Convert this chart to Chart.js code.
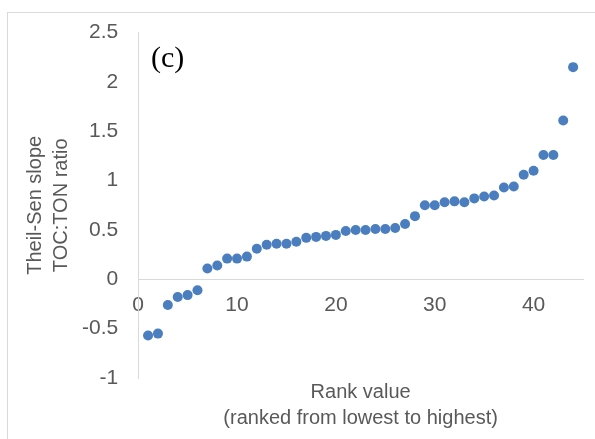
<!DOCTYPE html>
<html>
<head>
<meta charset="utf-8">
<script src="https://cdn.jsdelivr.net/npm/chart.js@4"></script>
<style>
  html, body { margin: 0; padding: 0; background: #fff; }
  #wrap { position: relative; width: 595px; height: 439px; overflow: hidden; }
  #frame {
    position: absolute; left: 7px; top: 12px; width: 620px; height: 460px;
    border-left: 1px solid #d9d9d9; border-top: 1px solid #d9d9d9;
  }
  #panel {
    position: absolute; left: 151px; top: 42px;
    font: 30px/30px "Liberation Serif", "Times New Roman", serif; color: #000;
  }
</style>
</head>
<body>
<div id="wrap">
  <div id="frame"></div>
  <canvas id="myChart"></canvas>
  <div id="panel">(c)</div>
</div>
<script>
(() => {
  'use strict'

  // Rank (x) and Theil-Sen slope of TOC:TON ratio (y)
  const ranks = [
    1, 2, 3, 4, 5, 6, 7, 8, 9, 10,
    11, 12, 13, 14, 15, 16, 17, 18, 19, 20,
    21, 22, 23, 24, 25, 26, 27, 28, 29, 30,
    31, 32, 33, 34, 35, 36, 37, 38, 39, 40,
    41, 42, 43, 44
  ]
  const slopes = [
    -0.57, -0.55, -0.26, -0.18, -0.16, -0.11, 0.11, 0.14, 0.21, 0.21,
    0.23, 0.31, 0.35, 0.36, 0.36, 0.38, 0.42, 0.43, 0.44, 0.45,
    0.49, 0.50, 0.50, 0.51, 0.51, 0.52, 0.56, 0.64, 0.75, 0.75,
    0.78, 0.79, 0.78, 0.82, 0.84, 0.85, 0.93, 0.94, 1.06, 1.10,
    1.26, 1.26, 1.61, 2.15
  ]
  const xTicks = [0, 10, 20, 30, 40]
  const yTicks = [-1, -0.5, 0, 0.5, 1, 1.5, 2, 2.5]

  const gray = '#595959'
  const axisLine = '#d9d9d9'
  const sans = "'Liberation Sans', Arial, sans-serif"

  const points = ranks.map((r, i) => ({ x: r, y: slopes[i] }))

  const ctx = document.getElementById('myChart')
  // eslint-disable-next-line no-unused-vars
  const myChart = new Chart(ctx, {
    type: 'scatter',
    data: {
      datasets: [{
        data: points,
        pointRadius: 5,
        pointHoverRadius: 5,
        pointBorderWidth: 0,
        backgroundColor: '#4a7ebf',
        borderColor: '#4a7ebf'
      }]
    },
    options: {
      responsive: true,
      maintainAspectRatio: false,
      animation: false,
      layout: {
        padding: { left: 20, right: 12, top: 31, bottom: 8 }
      },
      plugins: {
        legend: { display: false },
        tooltip: { enabled: false }
      },
      scales: {
        x: {
          type: 'linear',
          min: 0,
          max: 45,
          position: { y: 0 },
          afterBuildTicks: (scale) => { scale.ticks = xTicks.map(v => ({ value: v })) },
          grid: { display: false, drawTicks: false },
          border: { display: true, color: axisLine, width: 1 },
          ticks: {
            color: gray,
            padding: 13,
            maxRotation: 0,
            callback: (v) => String(v),
            font: { family: sans, size: 21 }
          }
        },
        xTitle: {
          type: 'linear',
          axis: 'x',
          min: 0,
          max: 45,
          position: 'bottom',
          grid: { display: false, drawTicks: false },
          border: { display: false },
          ticks: { display: false },
          title: {
            display: true,
            text: ['Rank value', '(ranked from lowest to highest)'],
            color: gray,
            font: { family: sans, size: 20, lineHeight: 1.3 },
            padding: { top: 1, bottom: 0 }
          }
        },
        y: {
          type: 'linear',
          min: -1,
          max: 2.5,
          position: 'left',
          afterBuildTicks: (scale) => { scale.ticks = yTicks.map(v => ({ value: v })) },
          grid: { display: false, drawTicks: false },
          border: { display: true, color: axisLine, width: 1 },
          ticks: {
            color: gray,
            padding: 20,
            callback: (v) => String(v),
            font: { family: sans, size: 21 }
          },
          title: {
            display: true,
            text: ['Theil-Sen slope', 'TOC:TON ratio'],
            color: gray,
            font: { family: sans, size: 20, lineHeight: 1.3 },
            padding: { top: 2, bottom: -12 }
          }
        }
      }
    }
  })
})()
</script>
</body>
</html>
